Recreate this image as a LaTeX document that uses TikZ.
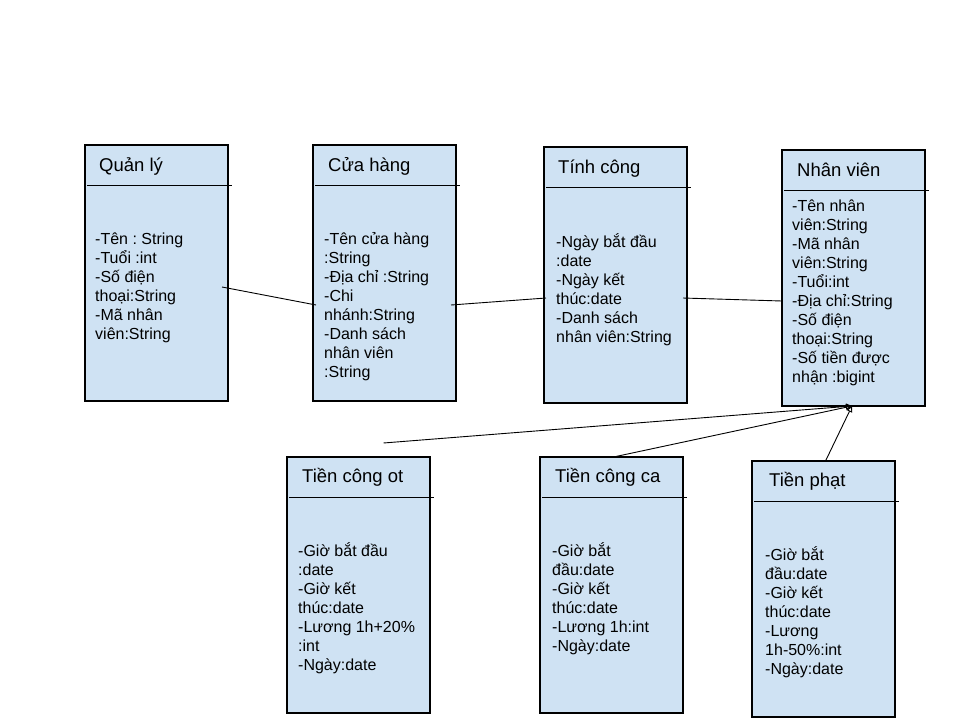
\documentclass[tikz,border=0pt]{standalone}
\usepackage{fontspec}
\setmainfont{Liberation Sans}
\usetikzlibrary{calc,arrows.meta}
\definecolor{boxblue}{HTML}{CFE2F3}
\frenchspacing

\begin{document}
\begin{tikzpicture}[x=1pt,y=-1pt]
	\tikzstyle{cbox}=[rectangle, draw, line width=1.1pt, fill=boxblue, minimum width=143pt, minimum height=256pt, inner sep=0pt, outer sep=0pt, anchor=north west]
	\tikzstyle{ctitle}=[inner sep=0pt, anchor=base west, font=\fontsize{18.5}{22}\selectfont]
	% base of a multi-line node is its last line
	\tikzstyle{cbody}=[inner sep=0pt, anchor=base west, align=left, font=\fontsize{16}{19}\selectfont]
	\tikzstyle{sep}=[line width=1pt]
	\tikzstyle{link}=[line width=0.9pt]
	\tikzstyle{inherit}=[link, -{Triangle[open, length=6pt, width=6pt]}]
	\useasboundingbox (0,0) rectangle (960,720);

	% boxes
	\node[cbox] (ql) at (85,145) {};
	\node[cbox] (ch) at (313,145) {};
	\node[cbox] (tc) at (544,147) {};
	\node[cbox] (nv) at (782,150) {};
	\node[cbox] (ot) at (287,457) {};
	\node[cbox] (ca) at (540,457) {};
	\node[cbox] (tp) at (752,461) {};

	% separators
	\foreach \b in {ql,ch,tc,nv,ot,ca,tp}
		\draw[sep] ($(\b.north west)+(2,40)$) -- ($(\b.north east)+(4,40)$);

	% titles
	\node[ctitle] (ql-t) at ($(ql.north west)+(14,26)$) {Quản lý};
	\node[ctitle] (ch-t) at ($(ch.north west)+(15,26)$) {Cửa hàng};
	\node[ctitle] (tc-t) at ($(tc.north west)+(14,26)$) {Tính công};
	\node[ctitle] (nv-t) at ($(nv.north west)+(15,26)$) {Nhân viên};
	\node[ctitle] (ot-t) at ($(ot.north west)+(15,25)$) {Tiền công ot};
	\node[ctitle] (ca-t) at ($(ca.north west)+(15,25)$) {Tiền công ca};
	\node[ctitle] (tp-t) at ($(tp.north west)+(17,25)$) {Tiền phạt};

	% attributes
	\node[cbody] (ql-b) at ($(ql.north west)+(10,194)$) {-Tên : String\\-Tuổi :int\\-Số điện\\thoại:String\\-Mã nhân\\viên:String};
	\node[cbody] (ch-b) at ($(ch.north west)+(11,232)$) {-Tên cửa hàng\\:String\\-Địa chỉ :String\\-Chi\\nhánh:String\\-Danh sách\\nhân viên\\:String};
	\node[cbody] (tc-b) at ($(tc.north west)+(12,195)$) {-Ngày bắt đầu\\:date\\-Ngày kết\\thúc:date\\-Danh sách\\nhân viên:String};
	\node[cbody] (nv-b) at ($(nv.north west)+(10,232)$) {-Tên nhân\\viên:String\\-Mã nhân\\viên:String\\-Tuổi:int\\-Địa chỉ:String\\-Số điện\\thoại:String\\-Số tiền được\\nhận :bigint};
	\node[cbody] (ot-b) at ($(ot.north west)+(11,213)$) {-Giờ bắt đầu\\:date\\-Giờ kết\\thúc:date\\-Lương 1h+20\%\\:int\\-Ngày:date};
	\node[cbody] (ca-b) at ($(ca.north west)+(12,194)$) {-Giờ bắt\\đầu:date\\-Giờ kết\\thúc:date\\-Lương 1h:int\\-Ngày:date};
	\node[cbody] (tp-b) at ($(tp.north west)+(13,213)$) {-Giờ bắt\\đầu:date\\-Giờ kết\\thúc:date\\-Lương\\1h-50\%:int\\-Ngày:date};

	% links
	\draw[link] ($(ql.north east)+(-6,142)$) -- ($(ch.north west)+(3,160)$);
	\draw[link] ($(ch.north east)+(-5,160)$) -- ($(tc.north west)+(2,151)$);
	\draw[link] ($(tc.north east)+(-4,151)$) -- ($(nv.north west)+(0,151)$);

	\coordinate (nv-in) at ($(nv.south west)+(70,0)$);
	\draw[inherit] ($(ot.north)+(25,-14)$) -- (nv-in);
	\draw[inherit] ($(ca.north)+(2,0)$) -- (nv-in);
	\draw[inherit] ($(tp.north)+(2,0)$) -- (nv-in);
\end{tikzpicture}
\end{document}
